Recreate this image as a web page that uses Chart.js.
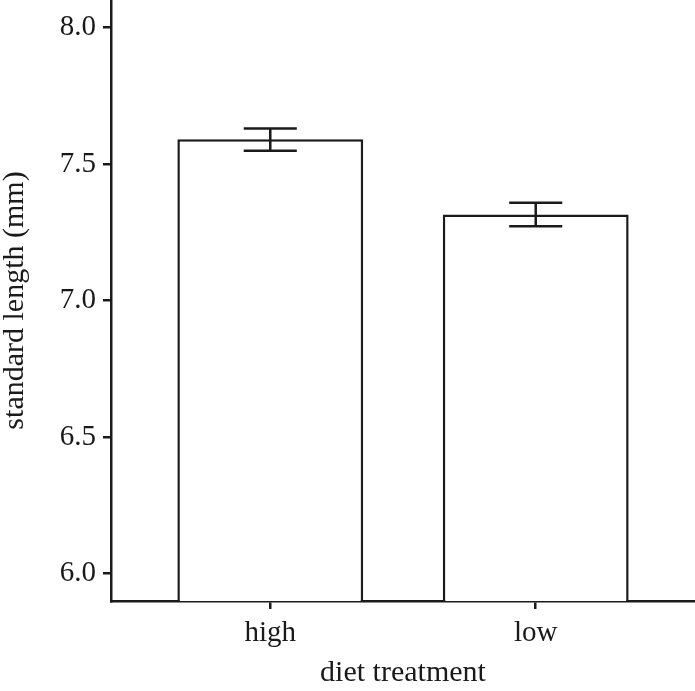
<!DOCTYPE html>
<html>
<head>
<meta charset="utf-8">
<script src="https://cdn.jsdelivr.net/npm/chart.js@4/dist/chart.umd.min.js"></script>
<style>
  html, body { margin: 0; padding: 0; background: #fff; }
  #wrap { width: 695px; height: 691px; }
</style>
</head>
<body>
<div id="wrap"><canvas id="myChart"></canvas></div>
<script>
// data
var categories = ['high', 'low'];
var meanLength = [7.59, 7.315];
var errLow = [7.548, 7.272];
var errHigh = [7.63, 7.358];
var yTicks = [6.0, 6.5, 7.0, 7.5, 8.0];

var ink = '#1a1a1a';
var serif = "'Liberation Serif', 'DejaVu Serif', serif";

// error bars drawn through the scales
var errorBars = {
  id: 'errorBars',
  afterDatasetsDraw: function (chart) {
    var ctx = chart.ctx;
    var xs = chart.scales.x;
    var ys = chart.scales.y;
    ctx.save();
    ctx.strokeStyle = ink;
    ctx.lineWidth = 2.5;
    for (var i = 0; i < categories.length; i++) {
      var cx = xs.getPixelForValue(i + 1);
      var x0 = xs.getPixelForValue(i + 1 - 0.1);
      var x1 = xs.getPixelForValue(i + 1 + 0.1);
      var yl = ys.getPixelForValue(errLow[i]);
      var yh = ys.getPixelForValue(errHigh[i]);
      ctx.beginPath();
      ctx.moveTo(cx, yl); ctx.lineTo(cx, yh);
      ctx.moveTo(x0, yl); ctx.lineTo(x1, yl);
      ctx.moveTo(x0, yh); ctx.lineTo(x1, yh);
      ctx.stroke();
    }
    ctx.restore();
  }
};

var data = {
  datasets: [
    {
      label: 'standard length',
      data: categories.map(function (c, i) { return { x: i + 1, y: meanLength[i] }; }),
      backgroundColor: '#ffffff',
      borderColor: ink,
      borderWidth: 2.5,
      categoryPercentage: 1,
      barPercentage: 0.7,
    },
  ],
};

var options = {
  responsive: true,
  maintainAspectRatio: false,
  animation: false,
  layout: { padding: 0 },
  plugins: {
    legend: { display: false },
    tooltip: { enabled: false },
  },
  scales: {
    x: {
      type: 'linear',
      min: 0.4,
      max: 2.6,
      offset: false,
      afterBuildTicks: function (scale) {
        scale.ticks = categories.map(function (c, i) { return { value: i + 1 }; });
      },
      afterFit: function (scale) {
        scale.height = 90;
        scale.paddingLeft = 0;
        scale.paddingRight = 0;
      },
      ticks: {
        color: ink,
        font: { family: serif, size: 29 },
        padding: 7,
        maxRotation: 0,
        callback: function (v) { return categories[v - 1]; },
      },
      grid: { offset: false, drawOnChartArea: false, drawTicks: true, tickLength: 8, color: ink, lineWidth: 2.5 },
      border: { display: true, color: ink, width: 2.5 },
      title: {
        display: true,
        text: 'diet treatment',
        color: ink,
        font: { family: serif, size: 30, lineHeight: 1.2 },
        padding: { top: 0, bottom: 0 },
      },
    },
    y: {
      min: 5.9,
      max: 8.1,
      afterBuildTicks: function (scale) {
        scale.ticks = yTicks.map(function (v) { return { value: v }; });
      },
      afterFit: function (scale) {
        scale.width = 111;
        scale.paddingTop = 0;
        scale.paddingBottom = 0;
      },
      ticks: {
        color: ink,
        font: { family: serif, size: 29 },
        padding: 7,
        callback: function (v) { return v.toFixed(1); },
      },
      grid: { drawOnChartArea: false, drawTicks: true, tickLength: 8, color: ink, lineWidth: 2.5 },
      border: { display: true, color: ink, width: 2.5 },
      title: {
        display: true,
        text: 'standard length (mm)',
        color: ink,
        font: { family: serif, size: 30, lineHeight: 1 },
        padding: { top: 0, bottom: 0 },
      },
    },
  },
};

var ctx = document.getElementById('myChart').getContext('2d');
var myChart = new Chart(ctx, {
  type: 'bar',
  data: data,
  options: options,
  plugins: [errorBars],
});
</script>
</body>
</html>
